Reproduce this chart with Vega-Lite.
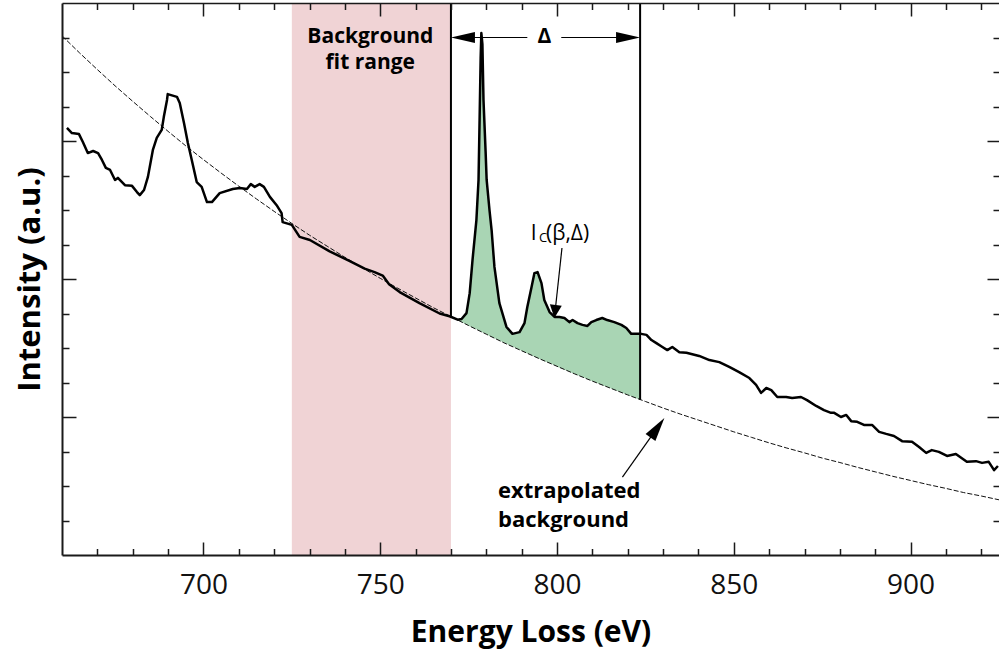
{
  "$schema": "https://vega.github.io/schema/vega-lite/v6.json",
  "width": 937,
  "height": 552,
  "autosize": {"type": "none"},
  "padding": {"left": 62, "top": 3, "right": 0, "bottom": 98},
  "background": "white",
  "config": {"view": {"stroke": null}, "font": "Open Sans"},
  "datasets": {
    "spectrum": [
      {"E": 661.4, "I": 12.38}, {"E": 662.8, "I": 12.23}, {"E": 664.8, "I": 12.2}, {"E": 665.9, "I": 11.97},
      {"E": 667.3, "I": 11.65}, {"E": 668.8, "I": 11.71}, {"E": 670.2, "I": 11.65}, {"E": 671.3, "I": 11.45},
      {"E": 672.4, "I": 11.22}, {"E": 673.6, "I": 11.16}, {"E": 675.0, "I": 10.87}, {"E": 675.8, "I": 10.93},
      {"E": 677.8, "I": 10.72}, {"E": 679.8, "I": 10.7}, {"E": 681.2, "I": 10.52}, {"E": 682.0, "I": 10.43},
      {"E": 683.2, "I": 10.58}, {"E": 684.3, "I": 10.96}, {"E": 685.7, "I": 11.74}, {"E": 686.8, "I": 12.09},
      {"E": 688.2, "I": 12.32}, {"E": 688.8, "I": 12.7}, {"E": 689.7, "I": 13.19}, {"E": 689.9, "I": 13.36},
      {"E": 692.5, "I": 13.28}, {"E": 693.3, "I": 13.1}, {"E": 694.5, "I": 12.52}, {"E": 695.6, "I": 11.94},
      {"E": 696.7, "I": 11.45}, {"E": 698.1, "I": 10.81}, {"E": 699.5, "I": 10.67}, {"E": 701.0, "I": 10.23},
      {"E": 702.4, "I": 10.23}, {"E": 704.6, "I": 10.49}, {"E": 708.3, "I": 10.61}, {"E": 710.3, "I": 10.64},
      {"E": 712.3, "I": 10.61}, {"E": 713.4, "I": 10.75}, {"E": 714.5, "I": 10.67}, {"E": 715.9, "I": 10.75},
      {"E": 717.1, "I": 10.67}, {"E": 718.8, "I": 10.38}, {"E": 720.7, "I": 10.14}, {"E": 722.1, "I": 9.91},
      {"E": 722.4, "I": 9.65}, {"E": 725.0, "I": 9.57}, {"E": 727.2, "I": 9.22}, {"E": 730.1, "I": 9.13},
      {"E": 735.7, "I": 8.8}, {"E": 741.4, "I": 8.52}, {"E": 745.6, "I": 8.3}, {"E": 748.4, "I": 8.2},
      {"E": 750.7, "I": 8.1}, {"E": 752.5, "I": 7.85}, {"E": 755.5, "I": 7.62}, {"E": 761.1, "I": 7.3},
      {"E": 766.8, "I": 7.0}, {"E": 769.6, "I": 6.92}, {"E": 771.9, "I": 6.82}, {"E": 773.0, "I": 6.84},
      {"E": 774.4, "I": 7.01}, {"E": 775.3, "I": 7.59}, {"E": 776.1, "I": 8.55}, {"E": 777.2, "I": 9.71},
      {"E": 777.8, "I": 10.87}, {"E": 778.1, "I": 12.6}, {"E": 778.4, "I": 14.4}, {"E": 778.6, "I": 15.13},
      {"E": 778.9, "I": 14.8}, {"E": 779.2, "I": 13.2}, {"E": 779.8, "I": 11.7}, {"E": 780.1, "I": 10.87},
      {"E": 780.9, "I": 10.0}, {"E": 781.5, "I": 9.42}, {"E": 782.3, "I": 8.35}, {"E": 783.7, "I": 7.3},
      {"E": 785.7, "I": 6.61}, {"E": 787.4, "I": 6.41}, {"E": 789.4, "I": 6.46}, {"E": 790.8, "I": 6.72},
      {"E": 791.6, "I": 7.19}, {"E": 792.8, "I": 7.77}, {"E": 793.6, "I": 8.17}, {"E": 794.5, "I": 8.2},
      {"E": 795.6, "I": 7.88}, {"E": 796.4, "I": 7.39}, {"E": 797.9, "I": 7.04}, {"E": 799.3, "I": 6.9},
      {"E": 800.7, "I": 6.9}, {"E": 802.1, "I": 6.87}, {"E": 803.5, "I": 6.75}, {"E": 804.4, "I": 6.81},
      {"E": 805.8, "I": 6.72}, {"E": 807.2, "I": 6.67}, {"E": 808.6, "I": 6.64}, {"E": 809.7, "I": 6.75},
      {"E": 811.1, "I": 6.81}, {"E": 812.8, "I": 6.87}, {"E": 814.2, "I": 6.81}, {"E": 816.2, "I": 6.75},
      {"E": 818.2, "I": 6.67}, {"E": 819.6, "I": 6.58}, {"E": 821.0, "I": 6.41}, {"E": 822.4, "I": 6.41},
      {"E": 823.8, "I": 6.41}, {"E": 825.3, "I": 6.38}, {"E": 826.7, "I": 6.23}, {"E": 828.1, "I": 6.14},
      {"E": 829.8, "I": 6.03}, {"E": 831.2, "I": 5.94}, {"E": 832.6, "I": 6.03}, {"E": 834.6, "I": 5.88},
      {"E": 836.6, "I": 5.86}, {"E": 840.2, "I": 5.77}, {"E": 843.1, "I": 5.65}, {"E": 845.9, "I": 5.59},
      {"E": 848.7, "I": 5.45}, {"E": 851.5, "I": 5.3}, {"E": 854.4, "I": 5.13}, {"E": 856.3, "I": 4.93},
      {"E": 857.7, "I": 4.7}, {"E": 859.2, "I": 4.84}, {"E": 860.6, "I": 4.78}, {"E": 862.3, "I": 4.58},
      {"E": 864.8, "I": 4.58}, {"E": 866.5, "I": 4.55}, {"E": 869.0, "I": 4.58}, {"E": 870.7, "I": 4.49},
      {"E": 873.3, "I": 4.32}, {"E": 875.5, "I": 4.2}, {"E": 877.5, "I": 4.12}, {"E": 878.4, "I": 4.12},
      {"E": 880.3, "I": 4.0}, {"E": 881.8, "I": 4.06}, {"E": 883.2, "I": 3.88}, {"E": 884.9, "I": 3.86},
      {"E": 886.8, "I": 3.77}, {"E": 889.1, "I": 3.77}, {"E": 891.1, "I": 3.57}, {"E": 893.1, "I": 3.51},
      {"E": 895.3, "I": 3.45}, {"E": 897.6, "I": 3.3}, {"E": 900.4, "I": 3.28}, {"E": 902.4, "I": 3.13},
      {"E": 904.4, "I": 2.96}, {"E": 906.0, "I": 3.04}, {"E": 908.0, "I": 2.99}, {"E": 910.3, "I": 2.87},
      {"E": 912.8, "I": 2.93}, {"E": 915.9, "I": 2.7}, {"E": 918.5, "I": 2.72}, {"E": 920.2, "I": 2.67},
      {"E": 922.1, "I": 2.7}, {"E": 923.6, "I": 2.46}, {"E": 924.7, "I": 2.58}
    ],
    "background": [
      {"E": 660, "B": 15.05}, {"E": 665, "B": 14.55}, {"E": 670, "B": 14.07}, {"E": 675, "B": 13.6},
      {"E": 680, "B": 13.15}, {"E": 685, "B": 12.71}, {"E": 690, "B": 12.28}, {"E": 695, "B": 11.86},
      {"E": 700, "B": 11.46}, {"E": 705, "B": 11.07}, {"E": 710, "B": 10.69}, {"E": 715, "B": 10.32},
      {"E": 720, "B": 9.96}, {"E": 725, "B": 9.61}, {"E": 730, "B": 9.27}, {"E": 735, "B": 8.95},
      {"E": 740, "B": 8.63}, {"E": 745, "B": 8.32}, {"E": 750, "B": 8.02}, {"E": 755, "B": 7.73},
      {"E": 760, "B": 7.45}, {"E": 765, "B": 7.17}, {"E": 770, "B": 6.91}, {"E": 775, "B": 6.65},
      {"E": 780, "B": 6.4}, {"E": 785, "B": 6.15}, {"E": 790, "B": 5.92}, {"E": 795, "B": 5.69},
      {"E": 800, "B": 5.47}, {"E": 805, "B": 5.25}, {"E": 810, "B": 5.04}, {"E": 815, "B": 4.84},
      {"E": 820, "B": 4.64}, {"E": 825, "B": 4.45}, {"E": 830, "B": 4.26}, {"E": 835, "B": 4.08},
      {"E": 840, "B": 3.91}, {"E": 845, "B": 3.74}, {"E": 850, "B": 3.57}, {"E": 855, "B": 3.41},
      {"E": 860, "B": 3.25}, {"E": 865, "B": 3.1}, {"E": 870, "B": 2.96}, {"E": 875, "B": 2.81},
      {"E": 880, "B": 2.68}, {"E": 885, "B": 2.54}, {"E": 890, "B": 2.41}, {"E": 895, "B": 2.28},
      {"E": 900, "B": 2.16}, {"E": 905, "B": 2.04}, {"E": 910, "B": 1.93}, {"E": 915, "B": 1.81},
      {"E": 920, "B": 1.71}, {"E": 925, "B": 1.6}
    ],
    "integration": [
      {"E": 770.0, "I": 6.91, "B": 6.91}, {"E": 771.9, "I": 6.82, "B": 6.81}, {"E": 773.0, "I": 6.84, "B": 6.75},
      {"E": 774.4, "I": 7.01, "B": 6.68}, {"E": 775.3, "I": 7.59, "B": 6.63}, {"E": 776.1, "I": 8.55, "B": 6.59},
      {"E": 777.2, "I": 9.71, "B": 6.54}, {"E": 777.8, "I": 10.87, "B": 6.51}, {"E": 778.1, "I": 12.6, "B": 6.49},
      {"E": 778.4, "I": 14.4, "B": 6.48}, {"E": 778.6, "I": 15.13, "B": 6.47}, {"E": 778.9, "I": 14.8, "B": 6.45},
      {"E": 779.2, "I": 13.2, "B": 6.44}, {"E": 779.8, "I": 11.7, "B": 6.41}, {"E": 780.1, "I": 10.87, "B": 6.39},
      {"E": 780.9, "I": 10.0, "B": 6.35}, {"E": 781.5, "I": 9.42, "B": 6.32}, {"E": 782.3, "I": 8.35, "B": 6.28},
      {"E": 783.7, "I": 7.3, "B": 6.22}, {"E": 785.7, "I": 6.61, "B": 6.12}, {"E": 787.4, "I": 6.41, "B": 6.04},
      {"E": 789.4, "I": 6.46, "B": 5.95}, {"E": 790.8, "I": 6.72, "B": 5.88}, {"E": 791.6, "I": 7.19, "B": 5.84},
      {"E": 792.8, "I": 7.77, "B": 5.79}, {"E": 793.6, "I": 8.17, "B": 5.75}, {"E": 794.5, "I": 8.2, "B": 5.71},
      {"E": 795.6, "I": 7.88, "B": 5.66}, {"E": 796.4, "I": 7.39, "B": 5.62}, {"E": 797.9, "I": 7.04, "B": 5.56},
      {"E": 799.3, "I": 6.9, "B": 5.5}, {"E": 800.7, "I": 6.9, "B": 5.43}, {"E": 802.1, "I": 6.87, "B": 5.37},
      {"E": 803.5, "I": 6.75, "B": 5.31}, {"E": 804.4, "I": 6.81, "B": 5.27}, {"E": 805.8, "I": 6.72, "B": 5.21},
      {"E": 807.2, "I": 6.67, "B": 5.16}, {"E": 808.6, "I": 6.64, "B": 5.1}, {"E": 809.7, "I": 6.75, "B": 5.05},
      {"E": 811.1, "I": 6.81, "B": 4.99}, {"E": 812.8, "I": 6.87, "B": 4.92}, {"E": 814.2, "I": 6.81, "B": 4.87},
      {"E": 816.2, "I": 6.75, "B": 4.79}, {"E": 818.2, "I": 6.67, "B": 4.71}, {"E": 819.6, "I": 6.58, "B": 4.65},
      {"E": 821.0, "I": 6.41, "B": 4.6}, {"E": 822.4, "I": 6.41, "B": 4.54}, {"E": 823.5, "I": 6.41, "B": 4.5}
    ]
  },
  "layer": [
    {
      "data": {"values": [{"E0": 725, "E1": 770}]},
      "mark": {"type": "rect", "color": "#f0d3d5"},
      "encoding": {
        "x": {"field": "E0", "type": "quantitative", "scale": {"domain": [660, 925], "nice": false, "zero": false}, "axis": null},
        "x2": {"field": "E1"}
      }
    },
    {
      "data": {"name": "integration"},
      "mark": {"type": "area", "color": "#a9d5b4", "opacity": 1},
      "encoding": {
        "x": {"field": "E", "type": "quantitative", "scale": {"domain": [660, 925], "nice": false, "zero": false}, "axis": null},
        "y": {"field": "I", "type": "quantitative", "scale": {"domain": [0, 16], "nice": false, "zero": false}, "axis": null},
        "y2": {"field": "B"}
      }
    },
    {
      "data": {"name": "background"},
      "mark": {"type": "line", "color": "#111111", "strokeWidth": 1, "strokeDash": [5, 2]},
      "encoding": {
        "x": {
          "field": "E", "type": "quantitative",
          "scale": {"domain": [660, 925], "nice": false, "zero": false},
          "axis": {
            "orient": "top", "values": [670, 680, 690, 700, 710, 720, 730, 740, 750, 760, 770, 780, 790, 800, 810, 820, 830, 840, 850, 860, 870, 880, 890, 900, 910, 920],
            "labels": false, "title": null, "grid": false, "zindex": 1,
            "tickSize": {"condition": {"test": "datum.value % 50 === 0", "value": -13}, "value": -6.5},
            "tickWidth": 1.5, "tickColor": "#1a1a1a", "domainWidth": 1.5, "domainColor": "#1a1a1a"
          }
        },
        "y": {
          "field": "B", "type": "quantitative",
          "scale": {"domain": [0, 16], "nice": false, "zero": false},
          "axis": {
            "orient": "right", "values": [1, 2, 3, 4, 5, 6, 7, 8, 9, 10, 11, 12, 13, 14, 15],
            "labels": false, "title": null, "grid": false, "domain": false, "zindex": 1,
            "tickSize": {"condition": {"test": "datum.value % 4 === 0", "value": -12}, "value": -6},
            "tickWidth": 1.5, "tickColor": "#1a1a1a"
          }
        }
      }
    },
    {
      "data": {"name": "spectrum"},
      "mark": {"type": "line", "color": "#000000", "strokeWidth": 2.5, "strokeJoin": "round"},
      "encoding": {
        "x": {
          "field": "E", "type": "quantitative",
          "scale": {"domain": [660, 925], "nice": false, "zero": false},
          "axis": {
            "orient": "bottom", "values": [670, 680, 690, 700, 710, 720, 730, 740, 750, 760, 770, 780, 790, 800, 810, 820, 830, 840, 850, 860, 870, 880, 890, 900, 910, 920],
            "labelExpr": "datum.value % 50 === 0 ? datum.label : ''",
            "labelFont": "Open Sans", "labelFontSize": 28, "labelColor": "#111111", "labelPadding": 29,
            "labelOverlap": false, "labelFlush": false,
            "grid": false, "zindex": 1,
            "tickSize": {"condition": {"test": "datum.value % 50 === 0", "value": -13}, "value": -6.5},
            "tickWidth": 1.5, "tickColor": "#1a1a1a", "domainWidth": 2, "domainColor": "#1a1a1a",
            "title": "Energy Loss (eV)", "titleFont": "Open Sans", "titleFontSize": 30, "titleFontWeight": "bold",
            "titleColor": "#000000", "titlePadding": 12
          }
        },
        "y": {
          "field": "I", "type": "quantitative",
          "scale": {"domain": [0, 16], "nice": false, "zero": false},
          "axis": {
            "orient": "left", "values": [1, 2, 3, 4, 5, 6, 7, 8, 9, 10, 11, 12, 13, 14, 15],
            "labels": false, "grid": false, "zindex": 1,
            "tickSize": {"condition": {"test": "datum.value % 4 === 0", "value": -14}, "value": -7},
            "tickWidth": 1.5, "tickColor": "#1a1a1a", "domainWidth": 2, "domainColor": "#1a1a1a",
            "title": "Intensity (a.u.)", "titleFont": "Open Sans", "titleFontSize": 31, "titleFontWeight": "bold",
            "titleColor": "#000000", "titlePadding": 15
          }
        }
      }
    },
    {
      "data": {"values": [{"E": 770, "B": 6.91}, {"E": 823.5, "B": 4.5}]},
      "mark": {"type": "rule", "color": "#000000", "strokeWidth": 2},
      "encoding": {
        "x": {"field": "E", "type": "quantitative", "scale": {"domain": [660, 925], "nice": false, "zero": false}, "axis": null},
        "y": {"field": "B", "type": "quantitative", "scale": {"domain": [0, 16], "nice": false, "zero": false}, "axis": null},
        "y2": {"datum": 16}
      }
    },
    {
      "data": {"values": [
        {"E": 772, "I": 15.0, "E2": 791.6, "I2": 15.0},
        {"E": 801.2, "I": 15.0, "E2": 821, "I2": 15.0},
        {"E": 801.4, "I": 8.9, "E2": 799.5, "I2": 7.1},
        {"E": 818.5, "I": 2.26, "E2": 828.4, "I2": 3.69}
      ]},
      "mark": {"type": "rule", "color": "#000000", "strokeWidth": 1.2},
      "encoding": {
        "x": {"field": "E", "type": "quantitative", "scale": {"domain": [660, 925], "nice": false, "zero": false}, "axis": null},
        "y": {"field": "I", "type": "quantitative", "scale": {"domain": [0, 16], "nice": false, "zero": false}, "axis": null},
        "x2": {"field": "E2"},
        "y2": {"field": "I2"}
      }
    },
    {
      "data": {"values": [{"E": 773.4, "I": 15.0}]},
      "mark": {"type": "point", "shape": "M-1,0L1,-0.46L1,0.46Z", "size": 576, "filled": true, "color": "#000000", "opacity": 1, "strokeWidth": 0},
      "encoding": {
        "x": {"field": "E", "type": "quantitative", "scale": {"domain": [660, 925], "nice": false, "zero": false}, "axis": null},
        "y": {"field": "I", "type": "quantitative", "scale": {"domain": [0, 16], "nice": false, "zero": false}, "axis": null}
      }
    },
    {
      "data": {"values": [{"E": 820.1, "I": 15.0}]},
      "mark": {"type": "point", "shape": "M1,0L-1,-0.46L-1,0.46Z", "size": 576, "filled": true, "color": "#000000", "opacity": 1, "strokeWidth": 0},
      "encoding": {
        "x": {"field": "E", "type": "quantitative", "scale": {"domain": [660, 925], "nice": false, "zero": false}, "axis": null},
        "y": {"field": "I", "type": "quantitative", "scale": {"domain": [0, 16], "nice": false, "zero": false}, "axis": null}
      }
    },
    {
      "data": {"values": [{"E": 799.46, "I": 7.06}]},
      "mark": {"type": "point", "shape": "M0,1L-0.92,-1L0.92,-1Z", "size": 169, "angle": 6.3, "filled": true, "color": "#000000", "opacity": 1, "strokeWidth": 0},
      "encoding": {
        "x": {"field": "E", "type": "quantitative", "scale": {"domain": [660, 925], "nice": false, "zero": false}, "axis": null},
        "y": {"field": "I", "type": "quantitative", "scale": {"domain": [0, 16], "nice": false, "zero": false}, "axis": null}
      }
    },
    {
      "data": {"values": [{"E": 828.4, "I": 3.69}]},
      "mark": {"type": "point", "shape": "M0,1L-0.5,-1L0.5,-1Z", "size": 576, "angle": 215.4, "filled": true, "color": "#000000", "opacity": 1, "strokeWidth": 0},
      "encoding": {
        "x": {"field": "E", "type": "quantitative", "scale": {"domain": [660, 925], "nice": false, "zero": false}, "axis": null},
        "y": {"field": "I", "type": "quantitative", "scale": {"domain": [0, 16], "nice": false, "zero": false}, "axis": null}
      }
    },
    {
      "data": {"values": [{"label": "Background\nfit range", "E": 747.2, "I": 14.84}, {"label": "Δ", "E": 796.4, "I": 14.84}]},
      "mark": {"type": "text", "font": "Open Sans", "fontSize": 21, "fontWeight": "bold", "color": "#000000", "align": "center", "baseline": "alphabetic", "lineBreak": "\n", "lineHeight": 26},
      "encoding": {
        "x": {"field": "E", "type": "quantitative", "scale": {"domain": [660, 925], "nice": false, "zero": false}, "axis": null},
        "y": {"field": "I", "type": "quantitative", "scale": {"domain": [0, 16], "nice": false, "zero": false}, "axis": null},
        "text": {"field": "label"}
      }
    },
    {
      "data": {"values": [{"label": "extrapolated\nbackground", "E": 783.3, "I": 1.65}]},
      "mark": {"type": "text", "font": "Open Sans", "fontSize": 22, "fontWeight": "bold", "color": "#000000", "align": "left", "baseline": "alphabetic", "lineBreak": "\n", "lineHeight": 29},
      "encoding": {
        "x": {"field": "E", "type": "quantitative", "scale": {"domain": [660, 925], "nice": false, "zero": false}, "axis": null},
        "y": {"field": "I", "type": "quantitative", "scale": {"domain": [0, 16], "nice": false, "zero": false}, "axis": null},
        "text": {"field": "label"}
      }
    },
    {
      "data": {"values": [{"label": "I", "E": 792.6, "I": 9.13}, {"label": "(β,Δ)", "E": 796.9, "I": 9.13}]},
      "mark": {"type": "text", "font": "Open Sans", "fontSize": 21, "color": "#000000", "align": "left", "baseline": "alphabetic"},
      "encoding": {
        "x": {"field": "E", "type": "quantitative", "scale": {"domain": [660, 925], "nice": false, "zero": false}, "axis": null},
        "y": {"field": "I", "type": "quantitative", "scale": {"domain": [0, 16], "nice": false, "zero": false}, "axis": null},
        "text": {"field": "label"}
      }
    },
    {
      "data": {"values": [{"label": "C", "E": 794.9, "I": 9.07}]},
      "mark": {"type": "text", "font": "Open Sans", "fontSize": 13, "color": "#000000", "align": "left", "baseline": "alphabetic"},
      "encoding": {
        "x": {"field": "E", "type": "quantitative", "scale": {"domain": [660, 925], "nice": false, "zero": false}, "axis": null},
        "y": {"field": "I", "type": "quantitative", "scale": {"domain": [0, 16], "nice": false, "zero": false}, "axis": null},
        "text": {"field": "label"}
      }
    }
  ],
  "resolve": {"axis": {"x": "independent", "y": "independent"}}
}
